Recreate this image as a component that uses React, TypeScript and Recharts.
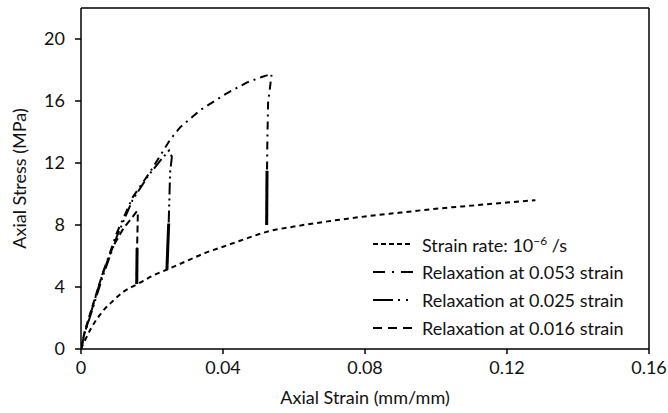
import React from 'react';
import { LineChart, Line, XAxis, YAxis, Legend, ReferenceLine } from 'recharts';

interface Pt {
  strain: number;
  stress: number;
}

const toPts = (rows: number[][]): Pt[] => rows.map(([strain, stress]) => ({ strain, stress }));

const X_TICKS = [0, 0.04, 0.08, 0.12, 0.16];
const Y_TICKS = [0, 4, 8, 12, 16, 20];

// constant strain rate test
const STRAIN_RATE = toPts([
  [0, 0], [0.001, 0.5], [0.003, 1.4], [0.006, 2.4], [0.009, 3.1], [0.012, 3.7],
  [0.016, 4.2], [0.02, 4.7], [0.025, 5.2], [0.03, 5.7], [0.035, 6.2], [0.04, 6.6],
  [0.045, 7.0], [0.053, 7.6], [0.06, 7.9], [0.07, 8.25], [0.08, 8.55], [0.09, 8.8],
  [0.1, 9.05], [0.11, 9.25], [0.12, 9.45], [0.128, 9.6],
]);

// relaxation tests: loading branch, hook at the top, then stress drop
const RELAX_053 = toPts([
  [0, 0], [0.001, 1.0], [0.003, 2.5], [0.006, 4.8], [0.0101, 7.5], [0.0146, 9.8],
  [0.0194, 11.4], [0.0251, 13.5], [0.0279, 14.3], [0.0335, 15.4], [0.0411, 16.5],
  [0.0468, 17.2], [0.0509, 17.55], [0.0537, 17.75], [0.0532, 16.8], [0.0527, 15.9],
  [0.0525, 13.5], [0.0524, 11.5], [0.0523, 8.0],
]);
const RELAX_053_DROP = toPts([[0.0524, 11.5], [0.0523, 8.0]]);

const RELAX_025 = toPts([
  [0, 0], [0.001, 1.0], [0.003, 2.4], [0.006, 4.6], [0.01, 7.2], [0.0145, 9.6],
  [0.019, 11.2], [0.0225, 12.2], [0.0248, 12.8], [0.0256, 12.4], [0.0251, 11.4],
  [0.0247, 8.1], [0.0242, 5.1],
]);
const RELAX_025_DROP = toPts([[0.0247, 8.1], [0.0242, 5.1]]);

const RELAX_016 = toPts([
  [0, 0], [0.001, 1.1], [0.003, 2.6], [0.006, 4.8], [0.009, 6.6], [0.012, 7.8],
  [0.0148, 8.6], [0.0158, 8.9], [0.016, 8.6], [0.0158, 6.5], [0.0157, 4.2],
]);
const RELAX_016_DROP = toPts([[0.0158, 6.5], [0.0157, 4.2]]);

const FONT = 'Lato, "Noto Sans", sans-serif';
const INK = '#000';
const TEXT = '#111';

const LEGEND_ROWS = [
  { key: 'rate', dash: '5 3', label: null },
  { key: '053', dash: '12 7 2 7', label: 'Relaxation at 0.053 strain' },
  { key: '025', dash: '20 5 2 6 2 20', label: 'Relaxation at 0.025 strain' },
  { key: '016', dash: '9 6', label: 'Relaxation at 0.016 strain' },
];

const ChartLegend = () => (
  <div style={{ fontFamily: FONT, fontSize: 18, color: TEXT }}>
    {LEGEND_ROWS.map((r) => (
      <div key={r.key} style={{ display: 'flex', alignItems: 'center', height: 28 }}>
        <svg width={44} height={10} style={{ marginRight: 7 }}>
          <line x1={2} y1={5} x2={42} y2={5} stroke={INK} strokeWidth={2.2} strokeDasharray={r.dash} />
        </svg>
        {r.label ?? (
          <span>
            Strain rate: 10<sup style={{ fontSize: 12 }}>−6</sup> /s
          </span>
        )}
      </div>
    ))}
  </div>
);

export default function App() {
  return (
    <div style={{ position: 'absolute', left: 0, top: 0 }}>
      <LineChart width={668} height={413} margin={{ top: 8, right: 19, bottom: 24, left: 21 }}>
        <XAxis
          type="number"
          dataKey="strain"
          domain={[0, 0.16]}
          ticks={X_TICKS}
          allowDataOverflow
          height={40}
          tickSize={5}
          tickMargin={7}
          stroke={INK}
          strokeWidth={1.5}
          tick={{ fill: TEXT, fontSize: 18, fontFamily: FONT }}
          label={{ value: 'Axial Strain (mm/mm)', position: 'bottom', offset: 2, fill: TEXT, fontSize: 18, fontFamily: FONT }}
        />
        <YAxis
          type="number"
          dataKey="stress"
          domain={[0, 22]}
          ticks={Y_TICKS}
          width={60}
          tickSize={6}
          tickMargin={10}
          stroke={INK}
          strokeWidth={1.5}
          tick={{ fill: TEXT, fontSize: 18, fontFamily: FONT }}
          label={{
            value: 'Axial Stress (MPa)',
            angle: -90,
            position: 'insideLeft',
            offset: -1,
            fill: TEXT,
            fontSize: 18,
            fontFamily: FONT,
            style: { textAnchor: 'middle' },
          }}
        />
        <ReferenceLine y={22} stroke={INK} strokeWidth={1.5} />
        <ReferenceLine x={0.16} stroke={INK} strokeWidth={1.5} />
        <Line data={STRAIN_RATE} dataKey="stress" type="monotone" stroke={INK} strokeWidth={2} strokeDasharray="5 4" dot={false} isAnimationActive={false} />
        <Line data={RELAX_053} dataKey="stress" type="linear" stroke={INK} strokeWidth={2} strokeDasharray="8 5 2 5" dot={false} isAnimationActive={false} />
        <Line data={RELAX_053_DROP} dataKey="stress" type="linear" stroke={INK} strokeWidth={3} dot={false} legendType="none" isAnimationActive={false} />
        <Line data={RELAX_025} dataKey="stress" type="linear" stroke={INK} strokeWidth={2} strokeDasharray="12 4 2 4 2 4" dot={false} isAnimationActive={false} />
        <Line data={RELAX_025_DROP} dataKey="stress" type="linear" stroke={INK} strokeWidth={3} dot={false} legendType="none" isAnimationActive={false} />
        <Line data={RELAX_016} dataKey="stress" type="linear" stroke={INK} strokeWidth={2} strokeDasharray="7 4" dot={false} isAnimationActive={false} />
        <Line data={RELAX_016_DROP} dataKey="stress" type="linear" stroke={INK} strokeWidth={3} dot={false} legendType="none" isAnimationActive={false} />
        <Legend
          layout="vertical"
          align="center"
          verticalAlign="middle"
          content={<ChartLegend />}
          wrapperStyle={{ position: 'absolute', left: 371, top: 230, width: 290 }}
        />
      </LineChart>
    </div>
  );
}
